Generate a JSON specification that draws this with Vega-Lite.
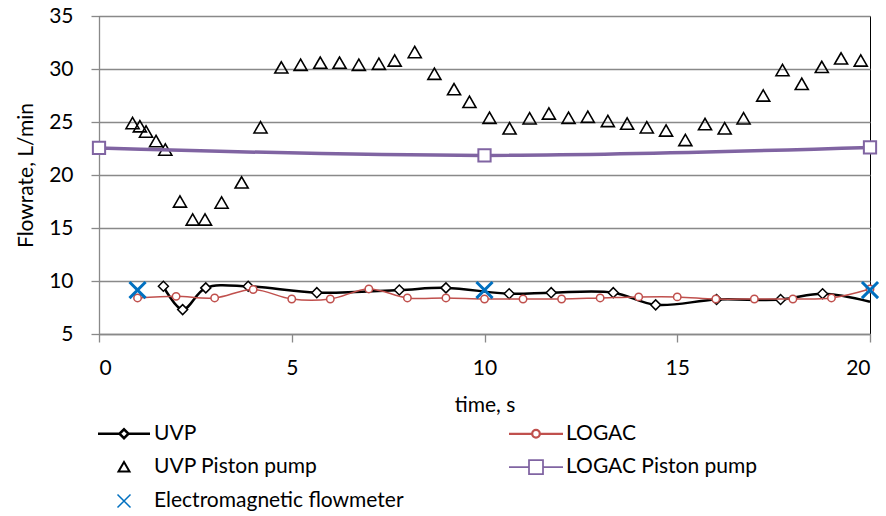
{
  "$schema": "https://vega.github.io/schema/vega-lite/v6.json",
  "width": 771,
  "height": 318,
  "autosize": {"type": "none"},
  "padding": {"left": 99, "top": 16, "right": 16, "bottom": 182},
  "background": "#ffffff",
  "config": {
    "font": "Lato",
    "view": {"stroke": "#000000", "strokeWidth": 1},
    "axis": {
      "labelFont": "Lato", "titleFont": "Lato", "labelFontSize": 21, "titleFontSize": 21,
      "titleFontWeight": "normal", "labelColor": "#000000", "titleColor": "#000000",
      "domainColor": "#898989", "tickColor": "#898989", "gridColor": "#898989",
      "tickSize": 8, "domainWidth": 1.3, "gridWidth": 1.3, "tickWidth": 1.3
    },
    "legend": {
      "title": null,
      "orient": "none",
      "legendX": 13.5,
      "legendY": 406,
      "padding": 0,
      "columns": 2,
      "direction": "horizontal",
      "symbolSize": 400,
      "labelOffset": 18.5,
      "labelFont": "Lato",
      "labelFontSize": 21,
      "labelColor": "#000000",
      "labelLimit": 400,
      "rowPadding": 12,
      "columnPadding": 100,
      "symbolFillColor": "transparent"
    }
  },
  "datasets": {
    "d": [
      {"series": "UVP", "t": 1.67, "v": 9.5},
      {"series": "UVP", "t": 2.17, "v": 7.3},
      {"series": "UVP", "t": 2.77, "v": 9.35},
      {"series": "UVP", "t": 3.87, "v": 9.5},
      {"series": "UVP", "t": 5.65, "v": 8.9},
      {"series": "UVP", "t": 7.79, "v": 9.15},
      {"series": "UVP", "t": 9.0, "v": 9.35},
      {"series": "UVP", "t": 10.64, "v": 8.8},
      {"series": "UVP", "t": 11.73, "v": 8.9},
      {"series": "UVP", "t": 13.34, "v": 8.9},
      {"series": "UVP", "t": 14.44, "v": 7.75},
      {"series": "UVP", "t": 16.02, "v": 8.25},
      {"series": "UVP", "t": 17.68, "v": 8.25},
      {"series": "UVP", "t": 18.77, "v": 8.8},
      {"series": "UVP", "t": 20, "v": 8.05},
      {"series": "LOGAC", "t": 1, "v": 8.4},
      {"series": "LOGAC", "t": 2, "v": 8.55},
      {"series": "LOGAC", "t": 3, "v": 8.4},
      {"series": "LOGAC", "t": 4, "v": 9.2},
      {"series": "LOGAC", "t": 5, "v": 8.3},
      {"series": "LOGAC", "t": 6, "v": 8.3},
      {"series": "LOGAC", "t": 7, "v": 9.25},
      {"series": "LOGAC", "t": 8, "v": 8.4},
      {"series": "LOGAC", "t": 9, "v": 8.4},
      {"series": "LOGAC", "t": 10, "v": 8.3},
      {"series": "LOGAC", "t": 11, "v": 8.3},
      {"series": "LOGAC", "t": 12, "v": 8.3},
      {"series": "LOGAC", "t": 13, "v": 8.4},
      {"series": "LOGAC", "t": 14, "v": 8.5},
      {"series": "LOGAC", "t": 15, "v": 8.5},
      {"series": "LOGAC", "t": 16, "v": 8.3},
      {"series": "LOGAC", "t": 17, "v": 8.3},
      {"series": "LOGAC", "t": 18, "v": 8.3},
      {"series": "LOGAC", "t": 19, "v": 8.4},
      {"series": "LOGAC", "t": 20, "v": 9.25},
      {"series": "UVP Piston pump", "t": 0.87, "v": 24.9},
      {"series": "UVP Piston pump", "t": 1.06, "v": 24.6},
      {"series": "UVP Piston pump", "t": 1.22, "v": 24.1},
      {"series": "UVP Piston pump", "t": 1.48, "v": 23.2},
      {"series": "UVP Piston pump", "t": 1.72, "v": 22.4},
      {"series": "UVP Piston pump", "t": 2.1, "v": 17.5},
      {"series": "UVP Piston pump", "t": 2.43, "v": 15.8},
      {"series": "UVP Piston pump", "t": 2.75, "v": 15.8},
      {"series": "UVP Piston pump", "t": 3.18, "v": 17.4},
      {"series": "UVP Piston pump", "t": 3.7, "v": 19.3},
      {"series": "UVP Piston pump", "t": 4.19, "v": 24.5},
      {"series": "UVP Piston pump", "t": 4.73, "v": 30.15},
      {"series": "UVP Piston pump", "t": 5.23, "v": 30.4},
      {"series": "UVP Piston pump", "t": 5.74, "v": 30.6},
      {"series": "UVP Piston pump", "t": 6.24, "v": 30.6},
      {"series": "UVP Piston pump", "t": 6.74, "v": 30.4},
      {"series": "UVP Piston pump", "t": 7.26, "v": 30.5},
      {"series": "UVP Piston pump", "t": 7.67, "v": 30.8},
      {"series": "UVP Piston pump", "t": 8.19, "v": 31.6},
      {"series": "UVP Piston pump", "t": 8.7, "v": 29.55},
      {"series": "UVP Piston pump", "t": 9.21, "v": 28.1},
      {"series": "UVP Piston pump", "t": 9.61, "v": 26.9},
      {"series": "UVP Piston pump", "t": 10.13, "v": 25.4},
      {"series": "UVP Piston pump", "t": 10.65, "v": 24.4},
      {"series": "UVP Piston pump", "t": 11.17, "v": 25.35},
      {"series": "UVP Piston pump", "t": 11.67, "v": 25.8},
      {"series": "UVP Piston pump", "t": 12.18, "v": 25.4},
      {"series": "UVP Piston pump", "t": 12.68, "v": 25.5},
      {"series": "UVP Piston pump", "t": 13.2, "v": 25.1},
      {"series": "UVP Piston pump", "t": 13.7, "v": 24.85},
      {"series": "UVP Piston pump", "t": 14.21, "v": 24.5},
      {"series": "UVP Piston pump", "t": 14.71, "v": 24.2},
      {"series": "UVP Piston pump", "t": 15.21, "v": 23.3},
      {"series": "UVP Piston pump", "t": 15.72, "v": 24.8},
      {"series": "UVP Piston pump", "t": 16.23, "v": 24.4},
      {"series": "UVP Piston pump", "t": 16.72, "v": 25.35},
      {"series": "UVP Piston pump", "t": 17.23, "v": 27.5},
      {"series": "UVP Piston pump", "t": 17.73, "v": 29.9},
      {"series": "UVP Piston pump", "t": 18.23, "v": 28.6},
      {"series": "UVP Piston pump", "t": 18.75, "v": 30.2},
      {"series": "UVP Piston pump", "t": 19.25, "v": 31.0},
      {"series": "UVP Piston pump", "t": 19.76, "v": 30.8},
      {"series": "LOGAC Piston pump", "t": 0, "v": 22.55},
      {"series": "LOGAC Piston pump", "t": 10, "v": 21.85},
      {"series": "LOGAC Piston pump", "t": 20, "v": 22.6},
      {"series": "Electromagnetic flowmeter", "t": 1, "v": 9.15},
      {"series": "Electromagnetic flowmeter", "t": 10, "v": 9.15},
      {"series": "Electromagnetic flowmeter", "t": 20, "v": 9.15}
    ]
  },
  "data": {"name": "d"},
  "encoding": {
    "x": {
      "field": "t", "type": "quantitative",
      "scale": {"domain": [0, 20], "nice": false, "zero": false},
      "axis": {"values": [0, 5, 10, 15, 20], "title": "time, s", "grid": false, "labelPadding": 15, "titlePadding": 16}
    },
    "y": {
      "field": "v", "type": "quantitative",
      "scale": {"domain": [5, 35], "nice": false, "zero": false},
      "axis": {"values": [5, 10, 15, 20, 25, 30, 35], "title": "Flowrate, L/min", "grid": true, "labelPadding": 18, "titlePadding": 12}
    }
  },
  "layer": [
    {
      "transform": [{"filter": "datum.series === 'UVP'"}],
      "mark": {"type": "line", "interpolate": "catmull-rom", "color": "#000000", "strokeWidth": 2.5}
    },
    {
      "transform": [{"filter": "datum.series === 'UVP' && datum.t < 20"}],
      "mark": {"type": "point", "shape": "diamond", "size": 100, "filled": true, "fill": "#ffffff", "stroke": "#000000", "strokeWidth": 1.5, "opacity": 1}
    },
    {
      "transform": [{"filter": "datum.series === 'LOGAC'"}],
      "mark": {"type": "line", "interpolate": "catmull-rom", "color": "#C0504D", "strokeWidth": 1.5}
    },
    {
      "transform": [{"filter": "datum.series === 'LOGAC'"}],
      "mark": {"type": "point", "shape": "circle", "size": 55, "filled": true, "fill": "#ffffff", "stroke": "#C0504D", "strokeWidth": 1.5, "opacity": 1}
    },
    {
      "transform": [{"filter": "datum.series === 'UVP Piston pump'"}],
      "mark": {"type": "point", "shape": "triangle-up", "size": 170, "filled": false, "stroke": "#000000", "strokeWidth": 1.6, "opacity": 1}
    },
    {
      "transform": [{"filter": "datum.series === 'LOGAC Piston pump'"}],
      "mark": {"type": "line", "interpolate": "catmull-rom", "color": "#8064A2", "strokeWidth": 3.5}
    },
    {
      "transform": [{"filter": "datum.series === 'LOGAC Piston pump'"}],
      "mark": {"type": "point", "shape": "square", "size": 150, "filled": true, "fill": "#ffffff", "stroke": "#8064A2", "strokeWidth": 2, "opacity": 1}
    },
    {
      "transform": [{"filter": "datum.series === 'Electromagnetic flowmeter'"}],
      "mark": {"type": "point", "shape": "M-1,-1L1,1M-1,1L1,-1", "size": 260, "filled": false, "stroke": "#0070C0", "strokeWidth": 3, "opacity": 1}
    },
    {
      "transform": [{"filter": "false"}],
      "mark": {"type": "point", "filled": false, "opacity": 1},
      "encoding": {
        "color": {
          "field": "series", "type": "nominal",
          "scale": {
            "domain": ["UVP", "LOGAC", "UVP Piston pump", "LOGAC Piston pump", "Electromagnetic flowmeter"],
            "range": ["#000000", "#C0504D", "#000000", "#8064A2", "#0070C0"]
          },
          "legend": {"title": null}
        },
        "shape": {
          "field": "series", "type": "nominal",
          "scale": {
            "domain": ["UVP", "LOGAC", "UVP Piston pump", "LOGAC Piston pump", "Electromagnetic flowmeter"],
            "range": [
              "M-2.6,0H-0.45M0.45,0H2.6M-0.45,0L0,-0.45L0.45,0L0,0.45Z",
              "M-2.7,0H-0.38M0.38,0H2.7M0.38,0A0.38,0.38,0,1,1,-0.38,0A0.38,0.38,0,1,1,0.38,0Z",
              "M0,-0.5L0.55,0.45L-0.55,0.45Z",
              "M-2.7,0H-0.7M0.7,0H2.7M-0.7,-0.7H0.7V0.7H-0.7Z",
              "M-0.65,-0.65L0.65,0.65M-0.65,0.65L0.65,-0.65"
            ]
          },
          "legend": {"title": null}
        },
        "strokeWidth": {
          "field": "series", "type": "nominal",
          "scale": {
            "domain": ["UVP", "LOGAC", "UVP Piston pump", "LOGAC Piston pump", "Electromagnetic flowmeter"],
            "range": [2.5, 1.5, 1.5, 3.2, 3]
          },
          "legend": {"title": null}
        }
      }
    }
  ]
}
